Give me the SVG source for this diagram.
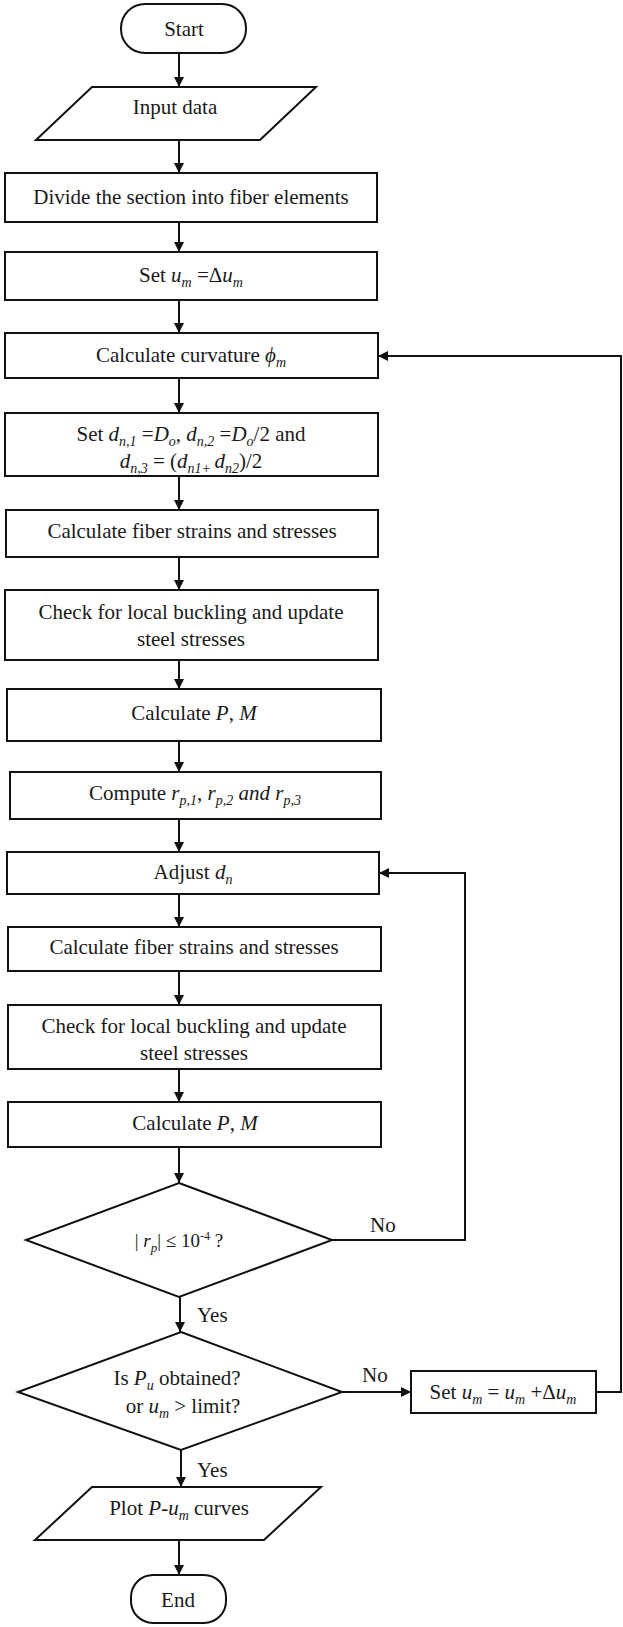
<svg xmlns="http://www.w3.org/2000/svg" width="623" height="1627" viewBox="0 0 623 1627">
<style>
.n{fill:#fff;stroke:#111;stroke-width:2}
.t{font-family:"Liberation Serif","Times New Roman",serif;font-size:21px;fill:#1a1a1a;text-anchor:middle}
.i{font-style:italic}
.s{font-size:14px;font-style:italic}
.c{fill:none;stroke:#111;stroke-width:2}
</style>
<defs>
<marker id="ah" markerUnits="userSpaceOnUse" markerWidth="10" markerHeight="10" refX="10" refY="5" orient="auto">
<path d="M0,0 L10,5 L0,10 z" fill="#111"/>
</marker>
</defs>
<rect width="623" height="1627" fill="#fff"/>
<g id="connectors">
<path class="c" d="M179,53 V87" marker-end="url(#ah)"/>
<path class="c" d="M179,140 V173" marker-end="url(#ah)"/>
<path class="c" d="M179,222 V252" marker-end="url(#ah)"/>
<path class="c" d="M179,300 V333" marker-end="url(#ah)"/>
<path class="c" d="M179,378 V413" marker-end="url(#ah)"/>
<path class="c" d="M179,476 V510" marker-end="url(#ah)"/>
<path class="c" d="M179,557 V590" marker-end="url(#ah)"/>
<path class="c" d="M179,660 V689" marker-end="url(#ah)"/>
<path class="c" d="M179,741 V772" marker-end="url(#ah)"/>
<path class="c" d="M179,819 V852" marker-end="url(#ah)"/>
<path class="c" d="M179,894 V927" marker-end="url(#ah)"/>
<path class="c" d="M179,971 V1005" marker-end="url(#ah)"/>
<path class="c" d="M179,1069 V1102" marker-end="url(#ah)"/>
<path class="c" d="M179,1147 V1183" marker-end="url(#ah)"/>
<path class="c" d="M180,1297 V1332" marker-end="url(#ah)"/>
<path class="c" d="M181,1450 V1487" marker-end="url(#ah)"/>
<path class="c" d="M179,1540 V1575" marker-end="url(#ah)"/>
<path class="c" d="M332,1240 H465 V873 H379" marker-end="url(#ah)"/>
<path class="c" d="M342,1392 H411" marker-end="url(#ah)"/>
<path class="c" d="M596,1392 H621 V356 H378" marker-end="url(#ah)"/>
<text class="t" x="197" y="1322" style="text-anchor:start">Yes</text>
<text class="t" x="197" y="1477" style="text-anchor:start">Yes</text>
<text class="t" x="370" y="1232" style="text-anchor:start">No</text>
<text class="t" x="362" y="1382" style="text-anchor:start">No</text>
</g>
<g id="start">
<rect class="n" x="121" y="4" width="125" height="49" rx="24" ry="24"/>
<text class="t" x="184" y="36">Start</text>
</g>
<g id="input">
<polygon class="n" points="92,87 316,87 260,140 36,140"/>
<text class="t" x="175" y="114">Input data</text>
</g>
<g id="divide">
<rect class="n" x="5" y="173" width="372" height="49"/>
<text class="t" x="191" y="204">Divide the section into fiber elements</text>
</g>
<g id="set-um">
<rect class="n" x="5" y="252" width="372" height="48"/>
<text class="t" x="191" y="282">Set <tspan class="i">u</tspan><tspan class="s" dy="5">m</tspan><tspan dy="-5"> =Δ</tspan><tspan class="i">u</tspan><tspan class="s" dy="5">m</tspan></text>
</g>
<g id="curvature">
<rect class="n" x="5" y="333" width="373" height="45"/>
<text class="t" x="191" y="362">Calculate curvature <tspan class="i">ϕ</tspan><tspan class="s" dy="5">m</tspan></text>
</g>
<g id="set-d">
<rect class="n" x="5" y="413" width="373" height="63"/>
<text class="t" x="191" y="441">Set <tspan class="i">d</tspan><tspan class="s" dy="5">n,1</tspan><tspan dy="-5"> =</tspan><tspan class="i">D</tspan><tspan class="s" dy="5">o</tspan><tspan dy="-5">, </tspan><tspan class="i">d</tspan><tspan class="s" dy="5">n,2</tspan><tspan dy="-5"> =</tspan><tspan class="i">D</tspan><tspan class="s" dy="5">o</tspan><tspan dy="-5">/2 and</tspan></text>
<text class="t" x="191" y="468"><tspan class="i">d</tspan><tspan class="s" dy="5">n,3</tspan><tspan dy="-5"> = (</tspan><tspan class="i">d</tspan><tspan class="s" dy="5">n1+ </tspan><tspan class="i" dy="-5">d</tspan><tspan class="s" dy="5">n2</tspan><tspan dy="-5">)/2</tspan></text>
</g>
<g id="fiber1">
<rect class="n" x="6" y="510" width="372" height="47"/>
<text class="t" x="192" y="538">Calculate fiber strains and stresses</text>
</g>
<g id="check1">
<rect class="n" x="5" y="590" width="373" height="70"/>
<text class="t" x="191" y="619">Check for local buckling and update</text>
<text class="t" x="191" y="646">steel stresses</text>
</g>
<g id="pm1">
<rect class="n" x="7" y="689" width="374" height="52"/>
<text class="t" x="194" y="720">Calculate <tspan class="i">P</tspan>, <tspan class="i">M</tspan></text>
</g>
<g id="compute-r">
<rect class="n" x="10" y="772" width="371" height="47"/>
<text class="t" x="195" y="800">Compute <tspan class="i">r</tspan><tspan class="s" dy="5">p,1</tspan><tspan dy="-5">, </tspan><tspan class="i">r</tspan><tspan class="s" dy="5">p,2</tspan><tspan class="i" dy="-5"> and r</tspan><tspan class="s" dy="5">p,3</tspan></text>
</g>
<g id="adjust">
<rect class="n" x="7" y="852" width="372" height="42"/>
<text class="t" x="193" y="879">Adjust <tspan class="i">d</tspan><tspan class="s" dy="5">n</tspan></text>
</g>
<g id="fiber2">
<rect class="n" x="8" y="927" width="373" height="44"/>
<text class="t" x="194" y="954">Calculate fiber strains and stresses</text>
</g>
<g id="check2">
<rect class="n" x="8" y="1005" width="373" height="64"/>
<text class="t" x="194" y="1033">Check for local buckling and update</text>
<text class="t" x="194" y="1060">steel stresses</text>
</g>
<g id="pm2">
<rect class="n" x="8" y="1102" width="373" height="45"/>
<text class="t" x="195" y="1130">Calculate <tspan class="i">P</tspan>, <tspan class="i">M</tspan></text>
</g>
<g id="check-rp">
<polygon class="n" points="179,1183 332,1240 179,1297 26,1240"/>
<text class="t" x="179" y="1247" style="font-size:19px">| <tspan class="i">r</tspan><tspan class="s" dy="5" style="font-size:13px">p</tspan><tspan dy="-5">| ≤ 10</tspan><tspan dy="-7" style="font-size:12px">-4</tspan><tspan dy="7"> ?</tspan></text>
</g>
<g id="check-pu">
<polygon class="n" points="181,1332 342,1392 181,1450 18,1392"/>
<text class="t" x="177" y="1385">Is <tspan class="i">P</tspan><tspan class="s" dy="5">u</tspan><tspan dy="-5"> obtained?</tspan></text>
<text class="t" x="183" y="1413">or <tspan class="i">u</tspan><tspan class="s" dy="5">m</tspan><tspan dy="-5"> &gt; limit?</tspan></text>
</g>
<g id="set-um2">
<rect class="n" x="411" y="1371" width="185" height="42"/>
<text class="t" x="503" y="1399">Set <tspan class="i">u</tspan><tspan class="s" dy="5">m</tspan><tspan dy="-5"> = </tspan><tspan class="i">u</tspan><tspan class="s" dy="5">m</tspan><tspan dy="-5"> +Δ</tspan><tspan class="i">u</tspan><tspan class="s" dy="5">m</tspan></text>
</g>
<g id="plot">
<polygon class="n" points="92,1487 321,1487 264,1540 35,1540"/>
<text class="t" x="179" y="1515">Plot <tspan class="i">P</tspan>-<tspan class="i">u</tspan><tspan class="s" dy="5">m</tspan><tspan dy="-5"> curves</tspan></text>
</g>
<g id="end">
<rect class="n" x="131" y="1575" width="95" height="48" rx="22" ry="22"/>
<text class="t" x="178" y="1607">End</text>
</g>
</svg>
